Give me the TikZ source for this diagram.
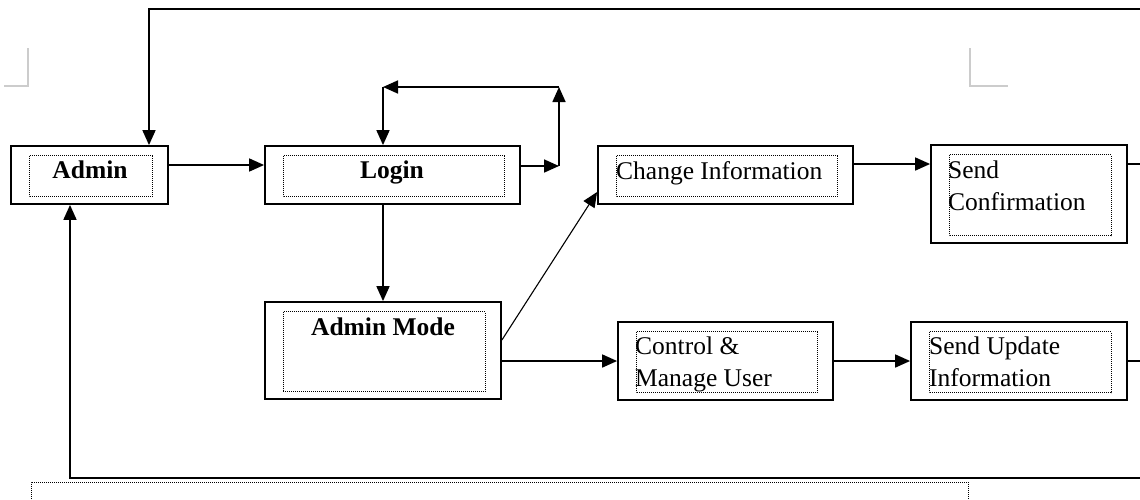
\documentclass[tikz,border=0pt]{standalone}
\usepackage{fontspec}
\setmainfont{Liberation Serif}
\usetikzlibrary{arrows.meta,calc}
\begin{document}
\begin{tikzpicture}[x=1pt,y=-1pt,
  box/.style={draw=black,line width=1.8pt,rectangle,inner sep=0pt,
    path picture={\draw[black,line width=0.9pt,dash pattern=on 1pt off 1pt]
      ([shift={(18pt,-9.5pt)}]path picture bounding box.north west) rectangle
      ([shift={(-16pt,7.5pt)}]path picture bounding box.south east);}},
  txt/.style={font=\fontsize{25.5}{32}\selectfont,inner sep=0pt,align=left},
  txtb/.style={txt,font=\fontsize{25.5}{32}\selectfont\bfseries},
  arr/.style={line width=1.7pt,-{Triangle[length=15pt,width=13pt]}},
  ln/.style={line width=1.7pt},
  cornermark/.style={draw=black!20,line width=1.2pt}]
\useasboundingbox (0,0) rectangle (1140,499);

% boxes
\node[box,minimum width=157pt,minimum height=58pt] (admin) at (89.5,175) {};
\node[box,minimum width=255pt,minimum height=58pt] (login) at (392.5,175) {};
\node[box,minimum width=255pt,minimum height=58pt] (change) at (725.5,175) {};
\node[box,minimum width=196pt,minimum height=98pt] (sendconf) at (1029,194) {};
\node[box,minimum width=236pt,minimum height=97pt] (adminmode) at (383,350.5) {};
\node[box,minimum width=215pt,minimum height=78pt] (control) at (725.5,361) {};
\node[box,minimum width=216pt,minimum height=78pt] (sendupd) at (1019,361) {};

% texts (multi-line: base anchor is the last line)
\node[txtb,anchor=base] (admint) at (90,178) {Admin};
\node[txtb,anchor=base] (logint) at (392,178) {Login};
\node[txt,anchor=base west] (changet) at (616,179) {Change Information};
\node[txt,anchor=base west] (sendconft) at (948,210) {Send\\Confirmation};
\node[txtb,anchor=base] (adminmodet) at (383,335) {Admin Mode};
\node[txt,anchor=base west] (controlt) at (635,386) {Control \&\\Manage User};
\node[txt,anchor=base west] (sendupdt) at (929,386) {Send Update\\Information};

% coordinates
\coordinate (topR) at (1140,9);
\coordinate (botR) at (1140,478);
\coordinate (l1) at (559,166);
\coordinate (l2) at (559,87);
\coordinate (l3) at (383,87);
\coordinate (rc1) at (1140,164);
\coordinate (rc2) at (1140,361);

% connectors
\draw[arr] (topR) -| ([xshift=59.5pt]admin.north);
\draw[arr] ([yshift=10pt]admin.east) -- ([yshift=10pt]login.west);
\draw[arr] ([yshift=9pt]login.east) -- (l1);
\draw[arr] (l1) -- (l2);
\draw[arr] (l2) -- (l3);
\draw[arr] (l3) -- (l3 |- login.north);
\draw[arr] (login.south -| adminmode.north) -- (adminmode.north);
\draw[line width=1.1pt,-{Triangle[length=15pt,width=13pt]}] ([yshift=10.5pt]adminmode.east) -- ([yshift=-17pt]change.west);
\draw[arr] (adminmode.east |- control.west) -- (control.west);
\draw[arr] ([yshift=11pt]change.east) -- ([yshift=11pt]change.east -| sendconf.west);
\draw[ln] (sendconf.east |- rc1) -- (rc1);
\draw[arr] (control.east) -- (sendupd.west);
\draw[ln] (sendupd.east) -- (rc2);
\draw[arr] (botR) -| ([xshift=-19.5pt]admin.south);

% page corner marks
\draw[cornermark] (4,86) -- (28,86) -- (28,48);
\draw[cornermark] (970,48) -- (970,86) -- (1008,86);
% bottom dotted frame
\draw[line width=1pt,dash pattern=on 1pt off 1pt] (31,499) -- (31,482) -- (968,482) -- (968,499);
\end{tikzpicture}
\end{document}
